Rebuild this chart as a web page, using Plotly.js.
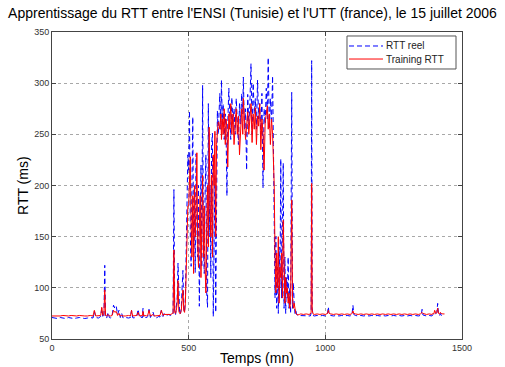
<!DOCTYPE html>
<html>
<head>
<meta charset="utf-8">
<script src="https://cdn.plot.ly/plotly-3.0.1.min.js"></script>
<style>html,body{margin:0;padding:0;background:#fff;}#chart{width:505px;height:367px;}</style>
</head>
<body>
<div id="chart"></div>
<script>
// Segment A: 0-440 min (calm period)
const tempsA = [0,10,20,30,40,50,60,70,80,90,100,110,120,130,140,150,155,160,170,178,182,186,190,193,196,200,205,210,215,220,225,230,235,240,245,250,255,260,270,280,287,291,295,300,305,310,315,320,325,330,333,336,340,345,350,355,360,365,370,375,380,385,390,395,400,403,406,410,415,420,425,430,435,440];
const reelA = [71,70.5,70,71,70.5,70,71,70.5,70,70.5, 71,70.5,70,70.5,71,70.5,77,71,70.5,72, 80,71,72,122,71,70.5,76,71,70.5,73, 83,80,82,74,78,71,75,70.5,71,70.5, 71,78,71,70.5,71,72,79,71,72,70.5, 80,71,72,70.5,72,79,71,74,76,71, 70.5,71,72,71.5,78,73,72,75,73.5,73, 74,73.5,73,74];
const trainA = [72.5,72.5,72,72.5,73,72.5,72.5,73,72.5,72.5, 73,72.5,72.5,72.5,73,72.5,78,72.5,72.5,73, 81,73,74,98,73,72.5,74,72.5,72.5,73, 78,76,77,73,75,72.5,73,72.5,72.5,73, 72.5,78,72.5,72.5,72.5,73,76,72.5,73,72.5, 77,72.5,73,72.5,73,78,72.5,73,74,72.5, 72.5,73,73,73,78,74,73,74,74,74, 74.5,74,74,75];

// Segment B: 443-497 min (first spikes)
const tempsB = [443,446,449,452,455,458,461,464,467,470,473,476,479,482,485,488,491,494,497];
const reelB = [74,196,76,74,80,90,124,78,74,75,80,100,117,80,76,90,140,170,230];
const trainB = [75,137,76,75,78,85,107,77,75,75,78,88,98,78,76,85,120,150,180];

// Segment C: 500-608 min (rising, strong oscillation)
const tempsC = [500,503,506,509,512,515,518,521,524,527,530,533,536,539,542,545,548,551,554,557,560,563,566,569,572,575,578,581,584,587,590,593,596,599,602,605,608];
const reelC = [215,273,150,121,200,267,140,180,115,231, 160,130,200,82,150,220,120,298,140,114, 190,230,95,81,280,150,200,110,240,251, 72,180,210,76,240,273,250];
const trainC = [180,210,228,160,130,190,114,200,150,175, 232,140,120,160,190,110,170,210,130,180, 120,95,160,200,140,257,180,150,210,130, 230,200,253,150,240,257,262];

// Segment D: 610-810 min (plateau)
const tempsD = [610,614,618,620,623,626,630,634,637,640,643,647,650,654,658,662,666,670,674,678,682,686,690,694,698,700,704,708,712,716,720,724,728,732,736,740,744,748,752,756,760,764,768,772,776,780,784,788,791,795,799,803,807,810];
const reelD = [265,290,255,303,260,280,245,270,250,190, 260,295,270,245,286,260,275,250,285,265, 240,280,260,290,270,306,255,275,215,289, 260,280,319,250,300,270,285,255,303,265, 280,250,290,198,275,260,295,265,325,255, 285,260,307,240];
const trainD = [262,255,270,245,265,250,275,240,265,255, 218,270,255,280,250,270,240,265,275,250, 268,230,262,275,250,285,265,245,258,272, 250,268,280,242,270,255,276,240,268,258, 280,235,265,250,215,262,270,278,255,270, 240,265,250,230];

// Segment E: 813-900 min (drop and tail)
const tempsE = [813,816,819,822,825,828,831,834,837,840,843,846,849,852,855,858,861,864,867,870,873,877,880,883,886,889,892,895,900];
const reelE = [150,90,150,80,120,75,140,100,226,90, 150,222,80,130,75,110,90,130,80,100, 75,291,80,105,85,75,78,74,73];
const trainE = [200,130,95,134,100,150,85,120,110,134, 90,166,120,85,110,95,100,85,95,80, 90,186,90,80,85,78,75,74,73.5];

// Segment F: 905-1436 min (calm period)
const tempsF = [905,910,920,930,940,945,948,950,952,955,960,970,980,990,1000,1005,1008,1011,1014,1020,1030,1040,1050,1060,1070,1080,1090,1095,1098,1101,1104,1110,1120,1130,1140,1150,1160,1170,1180,1190,1200,1210,1220,1230,1240,1250,1260,1270,1280,1290,1300,1310,1320,1330,1340,1348,1351,1354,1357,1362,1370,1380,1390,1394,1397,1400,1405,1408,1411,1414,1418,1421,1424,1430,1436];
const reelF = [73,72.5,73,72.5,73,72.5,75,322,80,73, 72.5,73,72.5,73,72.5,73,75,81.5,74,73, 72.5,73,72.5,73,72.5,73,72.5,73,75,83, 74,73,72.5,73,72.5,73,72.5,73,72.5,73, 72.5,73,72.5,73,72.5,73,72.5,73,72.5,73, 72.5,73,72.5,73,72.5,73,74,79,73.5,73, 72.5,73,72.5,74,73,73.5,75,76,84.8,74, 73,75,73,73.5,73];
const trainF = [74,74.5,74,74.5,74,74.5,76,202,78,74.5, 74,74.5,74,74.5,74,74.5,75,78,75,74.5, 74,74.5,74,74.5,74,74.5,74,74.5,75,77.5, 75,74.5,74,74.5,74,74.5,74,74.5,74,74.5, 74,74.5,74,74.5,74,74.5,74,74.5,74,74.5, 74,74.5,74,74.5,74,74.5,75,76,75,74.5, 74,74.5,74,75,74.5,78,75,76,80,75, 74.5,76,75,74.5,74.5];

const xTicks = [0, 500, 1000, 1500];
const yTicks = [50, 100, 150, 200, 250, 300, 350];
const titleText = "Apprentissage du RTT entre l'ENSI (Tunisie) et l'UTT (france), le 15 juillet 2006";
const xTitle = 'Temps (mn)';
const yTitle = 'RTT (ms)';
const seriesNames = ["RTT reel", "Training RTT"];
const seriesColors = ['#0000ff', '#ff0000'];

const temps = [].concat(tempsA, tempsB, tempsC, tempsD, tempsE, tempsF);
const reel = [].concat(reelA, reelB, reelC, reelD, reelE, reelF);
const train = [].concat(trainA, trainB, trainC, trainD, trainE, trainF);

const font = "Liberation Sans, Arial, Helvetica, sans-serif";
const blueDash = '5px,3px';

const traces = [
  {x: temps, y: reel, type: 'scatter', mode: 'lines', name: seriesNames[0],
   line: {color: seriesColors[0], width: 1, dash: blueDash}},
  {x: temps, y: train, type: 'scatter', mode: 'lines', name: seriesNames[1],
   line: {color: seriesColors[1], width: 1}}
];

const axisCommon = {
  showline: true, linecolor: '#444', linewidth: 1, mirror: 'allticks',
  ticks: 'inside', ticklen: 4, tickcolor: '#444', tickwidth: 1,
  showgrid: true, gridcolor: '#a8a8a8', griddash: 'dot', gridwidth: 1,
  zeroline: false, tickfont: {family: font, size: 9, color: '#333'}
};

// Legend box drawn in paper coordinates (MATLAB-style compact legend)
const lg = {x0: 0.7195, x1: 0.9854, y0: 0.8795, y1: 0.987, lx0: 0.7244, lx1: 0.8073, tx: 0.8098, rows: [0.9544, 0.912]};
const shapes = [
  {type: 'rect', xref: 'paper', yref: 'paper', x0: lg.x0, x1: lg.x1, y0: lg.y0, y1: lg.y1,
   line: {color: '#555', width: 1}, fillcolor: '#fff', layer: 'above'},
  {type: 'line', xref: 'paper', yref: 'paper', x0: lg.lx0, x1: lg.lx1, y0: lg.rows[0], y1: lg.rows[0],
   line: {color: seriesColors[0], width: 1, dash: blueDash}, layer: 'above'},
  {type: 'line', xref: 'paper', yref: 'paper', x0: lg.lx0, x1: lg.lx1, y0: lg.rows[1], y1: lg.rows[1],
   line: {color: seriesColors[1], width: 1}, layer: 'above'}
];
const annotations = seriesNames.map((n, i) => ({
  text: n, xref: 'paper', yref: 'paper', x: lg.tx, y: lg.rows[i], xanchor: 'left', yanchor: 'middle',
  showarrow: false, font: {family: font, size: 10, color: '#222'}
}));
annotations.push({text: xTitle, xref: 'paper', yref: 'paper', x: 0.5, y: -0.061, xanchor: 'center', yanchor: 'middle',
  showarrow: false, font: {family: font, size: 14, color: '#000'}});
annotations.push({text: yTitle, xref: 'paper', yref: 'paper', x: -0.072, y: 0.5, xanchor: 'center', yanchor: 'middle',
  textangle: -90, showarrow: false, font: {family: font, size: 14, color: '#000'}});

const layout = {
  width: 505, height: 367,
  margin: {l: 52, r: 43, t: 32, b: 28, pad: 0},
  paper_bgcolor: '#fff', plot_bgcolor: '#fff',
  font: {family: font, color: '#000'},
  title: {text: titleText, font: {family: font, size: 14, color: '#000'},
          x: 0.5, xanchor: 'center', xref: 'container', y: 1 - 13/367, yref: 'container', yanchor: 'middle'},
  xaxis: Object.assign({}, axisCommon, {range: [0, 1500], tickvals: xTicks, ticktext: xTicks.map(String)}),
  yaxis: Object.assign({}, axisCommon, {range: [50, 350], tickvals: yTicks, ticktext: yTicks.map(String)}),
  showlegend: false,
  shapes: shapes,
  annotations: annotations
};

Plotly.newPlot('chart', traces, layout, {staticPlot: true, displayModeBar: false});
</script>
</body>
</html>
